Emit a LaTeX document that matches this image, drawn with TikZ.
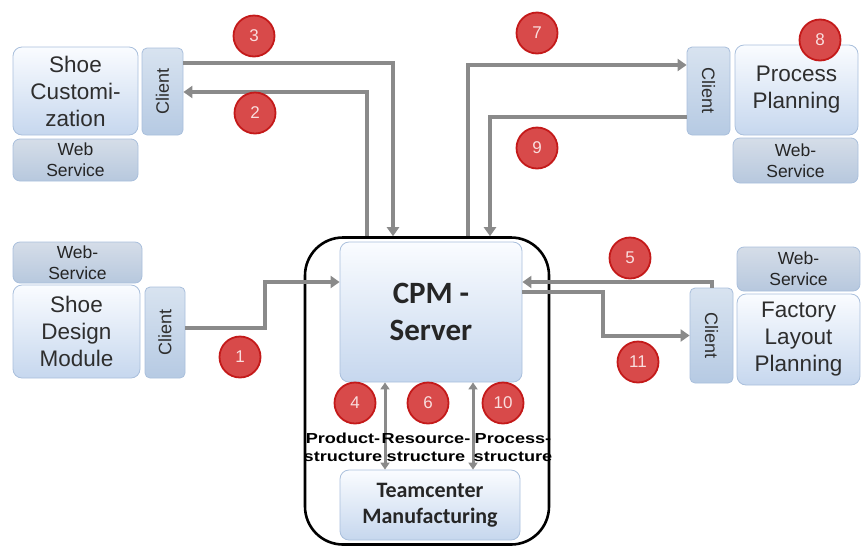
\documentclass[tikz,border=0pt]{standalone}
\usepackage{fontspec}
\setmainfont{Liberation Sans}
\newfontfamily\carlito{Carlito}
\usetikzlibrary{arrows.meta}
\definecolor{bxtop}{HTML}{FAFCFF}
\definecolor{bxbot}{HTML}{C6D7EE}
\definecolor{bxline}{HTML}{A9BFDC}
\definecolor{wstop}{HTML}{D5DDE8}
\definecolor{wsbot}{HTML}{B7C8DE}
\definecolor{cltop}{HTML}{D8E3F0}
\definecolor{clbot}{HTML}{B6CAE3}
\definecolor{numfill}{HTML}{D84A4A}
\definecolor{numline}{HTML}{C41A1A}
\definecolor{numtext}{HTML}{F9DEDE}
\definecolor{arrgray}{HTML}{8A8A8A}
\definecolor{txtdark}{HTML}{2E2E2E}
\tikzset{
  mainbox/.style={draw=bxline, line width=0.8pt, rounded corners=9pt, top color=bxtop, bottom color=bxbot, inner sep=0pt, align=center, text=txtdark, font=\fontsize{22.5}{27}\selectfont},
  wsbox/.style={draw=bxline, line width=0.8pt, rounded corners=7pt, top color=wstop, bottom color=wsbot, inner sep=0pt, align=center, text=txtdark!80!black, font=\fontsize{17.5}{21}\selectfont},
  clbox/.style={draw=bxline, line width=0.8pt, rounded corners=5pt, top color=cltop, bottom color=clbot, inner sep=0pt, text=txtdark, font=\fontsize{18}{18}\selectfont},
  numc/.style={circle, fill=numfill, draw=numline, line width=1.8pt, minimum size=41pt, inner sep=0pt, text=numtext, font=\fontsize{17}{17}\selectfont},
  arr/.style={draw=arrgray, line width=4pt, -{Triangle[length=9pt,width=12pt]}},
  arrb/.style={draw=arrgray, line width=3pt, {Triangle[length=7pt,width=9pt]}-{Triangle[length=7pt,width=9pt]}},
  lbl/.style={inner sep=0pt, align=center, font=\fontsize{14.5}{17.5}\selectfont\bfseries}
}
\begin{document}
\begin{tikzpicture}[x=1pt,y=-1pt]
\useasboundingbox (0,0) rectangle (861,547);
% outer container
\node[draw=black, line width=2.6pt, rounded corners=38pt, minimum width=244pt, minimum height=307pt] (outer) at (427,391) {};
% central boxes
\node[mainbox, minimum width=182pt, minimum height=140pt, font=\carlito\bfseries\fontsize{31}{37}\selectfont, text=black!85] (server) at (431,312) {CPM -\\Server};
\node[mainbox, minimum width=180pt, minimum height=70pt, font=\carlito\bfseries\fontsize{22}{26}\selectfont, text=black!85] (tc) at (430,505) {Teamcenter\\Manufacturing};
% top left
\node[mainbox, minimum width=125pt, minimum height=88pt] (sc) at (75.5,91) {Shoe\\Customi-\\zation};
\node[wsbox, minimum width=125pt, minimum height=42pt] (ws1) at (75.5,160) {Web\\Service};
\node[clbox, minimum width=41pt, minimum height=87pt] (cl1) at (162.5,91.5) {\rotatebox{90}{Client}};
% top right
\node[mainbox, minimum width=123pt, minimum height=90pt] (pp) at (796.5,90) {Process\\Planning};
\node[wsbox, minimum width=125pt, minimum height=45pt] (ws3) at (795.5,160.5) {Web-\\Service};
\node[clbox, minimum width=43pt, minimum height=88pt] (cl3) at (708.5,91) {\rotatebox{-90}{Client}};
% middle left
\node[wsbox, minimum width=129pt, minimum height=41pt] (ws2) at (77.5,262.5) {Web-\\Service};
\node[mainbox, minimum width=127pt, minimum height=93pt] (sd) at (76.5,331.5) {Shoe\\Design\\Module};
\node[clbox, minimum width=40pt, minimum height=91pt] (cl2) at (165,332.5) {\rotatebox{90}{Client}};
% middle right
\node[wsbox, minimum width=123pt, minimum height=44pt] (ws4) at (798.5,269) {Web-\\Service};
\node[mainbox, minimum width=123pt, minimum height=91pt] (fl) at (798.5,339.5) {Factory\\Layout\\Planning};
\node[clbox, minimum width=43pt, minimum height=95pt] (cl4) at (711.5,335.5) {\rotatebox{-90}{Client}};
% connectors
\draw[arr] ([yshift=28.5pt]cl1.east) -| ([xshift=-34pt]outer.north);
\draw[arr] ([xshift=-60pt]outer.north) |- ([yshift=-0.5pt]cl1.east);
\draw[arr] ([xshift=41pt]outer.north) |- ([yshift=26pt]cl3.west);
\draw[arr] ([yshift=-26pt]cl3.west) -| ([xshift=63pt]outer.north);
\draw[arr] ([yshift=4.5pt]cl2.east) -- ++(80,0) |- ([yshift=30pt]server.west);
\draw[arr] (cl4.north) |- ([yshift=30pt]server.east);
\draw[arr] ([yshift=20pt]server.east) -- ++(81,0) |- (cl4.west);
\draw[arrb] ([xshift=-46pt]server.south) -- ([xshift=-45pt]tc.north);
\draw[arrb] ([xshift=42pt]server.south) -- ([xshift=43pt]tc.north);
% structure labels
\node[lbl] (lp) at (343,449) {\scalebox{1.25}[1]{\begin{tabular}{@{}c@{}}Product-\\structure\end{tabular}}};
\node[lbl] (lr) at (426,449) {\scalebox{1.25}[1]{\begin{tabular}{@{}c@{}}Resource-\\structure\end{tabular}}};
\node[lbl] (lq) at (513,449) {\scalebox{1.25}[1]{\begin{tabular}{@{}c@{}}Process-\\structure\end{tabular}}};
% numbered markers
\node[numc] (n1) at (240,357) {1};
\node[numc] (n2) at (255,113) {2};
\node[numc] (n3) at (254,36) {3};
\node[numc] (n4) at (355,403) {4};
\node[numc] (n5) at (630,258) {5};
\node[numc] (n6) at (428,403) {6};
\node[numc] (n7) at (537,33) {7};
\node[numc] (n8) at (820,40) {8};
\node[numc] (n9) at (537,148) {9};
\node[numc] (n10) at (503,403) {10};
\node[numc] (n11) at (638,362) {11};
\end{tikzpicture}
\end{document}
